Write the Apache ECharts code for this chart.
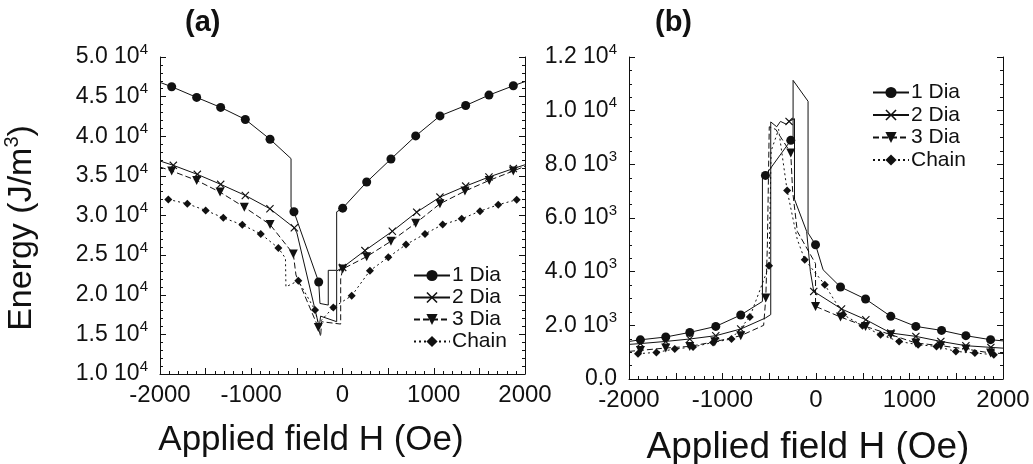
<!DOCTYPE html>
<html><head><meta charset="utf-8">
<script src="https://cdn.jsdelivr.net/npm/echarts@6/dist/echarts.min.js"></script>
<style>html,body{margin:0;padding:0;background:#fff}#c{width:1033px;height:464px}</style>
</head><body><div id="c"></div>
<script>
// ---- data: [H (Oe), Energy (J/m3), marker flag] ----
const seriesNames = ['1 Dia', '2 Dia', '3 Dia', 'Chain'];
const xTicks = [-2000, -1000, 0, 1000, 2000];

const a1Dia = [[-2000,46800,0],[-1872,46250,1],[-1598,44900,1],[-1335,43640,1],[-1065,42120,1],[-794,39620,1],[-564,37180,0],[-564,31070,0],[-532,30470,1],[-261,21610,1],[-247,18900,0],[-156,18700,0],[-156,23080,0],[-64,23080,0],[-64,30460,0],[2,30930,1],[265,34220,1],[531,37130,1],[802,40040,1],[1068,42570,1],[1350,43880,1],[1605,45190,1],[1872,46370,1],[2000,46900,0]];
const a2Dia = [[-2000,36880,0],[-1854,36330,1],[-1591,35190,1],[-1335,33930,1],[-1065,32530,1],[-795,30850,1],[-528,28440,1],[-500,27800,0],[-255,15900,0],[-240,17300,0],[-64,16600,0],[-64,23000,0],[2,23450,1],[246,25570,1],[546,28010,1],[813,30420,1],[1068,32320,1],[1350,33710,1],[1605,34860,1],[1872,35920,1],[2000,36400,0]];
const a3Dia = [[-2000,36120,0],[-1872,35620,1],[-1598,34430,1],[-1342,32950,1],[-1076,31050,1],[-794,28860,1],[-539,25150,1],[-510,22500,0],[-265,15860,1],[-239,14720,0],[-230,16600,0],[-20,16300,0],[-20,22000,0],[2,23250,1],[265,24810,1],[531,26750,1],[802,29030,1],[1068,31480,1],[1342,33080,1],[1608,34430,1],[1872,35620,1],[2000,36200,0]];
const aChain = [[-1909,32030,1],[-1701,31480,1],[-1499,30640,1],[-1306,29710,1],[-1098,28820,1],[-896,27680,1],[-703,25900,1],[-625,24600,0],[-620,21000,0],[-484,21770,1],[-301,18060,1],[-262,16200,0],[-230,16800,0],[-101,18400,1],[101,19880,1],[301,23040,1],[502,24730,1],[696,26330,1],[904,27680,1],[1098,28860,1],[1306,29580,1],[1507,30550,1],[1707,31360,1],[1909,31990,1]];

const b1Dia = [[-2000,1400,0],[-1878,1460,1],[-1607,1565,1],[-1350,1737,1],[-1072,1960,1],[-805,2385,1],[-573,2890,0],[-573,7500,0],[-541,7588,1],[-270,8893,1],[-245,8950,0],[-245,11130,0],[-85,10350,0],[-85,5440,0],[-5,5005,1],[76,4070,0],[262,3430,1],[530,2980,1],[800,2334,1],[1068,1960,1],[1343,1811,1],[1603,1614,1],[1867,1465,1],[2000,1420,0]];
const b2Dia = [[-2000,1290,0],[-1878,1320,1],[-1607,1400,1],[-1350,1491,1],[-1072,1614,1],[-805,1863,1],[-541,2273,0],[-484,2400,0],[-484,9580,0],[-420,9400,0],[-380,9600,0],[-320,9500,0],[-288,9600,1],[-230,9700,0],[-230,6700,0],[-100,5500,0],[-60,4000,0],[-24,3265,1],[273,2609,1],[533,2210,1],[800,1714,1],[1068,1588,1],[1335,1401,1],[1603,1241,1],[1870,1178,1],[2000,1150,0]];
const b3Dia = [[-2000,1030,0],[-1878,1066,1],[-1607,1155,1],[-1350,1215,1],[-1083,1390,1],[-805,1614,1],[-560,2000,0],[-537,3019,1],[-520,5000,0],[-500,9400,0],[-430,9300,0],[-270,8423,1],[-250,7000,0],[-200,5500,0],[-5,4300,0],[-5,2706,1],[262,2310,1],[530,1960,1],[800,1651,1],[1068,1342,1],[1335,1241,1],[1603,1118,1],[1867,969,1],[2000,950,0]];
const bChain = [[-1904,943,1],[-1707,991,1],[-1511,1118,1],[-1315,1193,1],[-1101,1364,1],[-904,1491,1],[-708,2310,1],[-502,4222,1],[-480,8500,0],[-400,9300,0],[-309,7029,1],[-200,5200,0],[-120,4446,1],[94,3515,1],[290,2400,1],[497,1986,1],[690,1651,1],[889,1401,1],[1092,1278,1],[1289,1215,1],[1496,1029,1],[1699,969,1],[1902,906,1]];

const FONT = '"Liberation Sans", Arial, sans-serif';
const INK = '#111';

const styles = [
  {symbol: 'circle', size: 9, type: 'solid'},
  {symbol: 'path://M0,1L1,0L5,4L9,0L10,1L6,5L10,9L9,10L5,6L1,10L0,9L4,5Z', size: 8, type: 'solid'},
  {symbol: 'path://M0,0L10,0L5,9Z', size: 9, type: [6,3]},
  {symbol: 'diamond', size: 8, type: [2,3]}
];

function mk(arr, idx, grid) {
  const st = styles[idx];
  return {
    type: 'line', name: seriesNames[idx], xAxisIndex: grid, yAxisIndex: grid * 2,
    symbol: st.symbol, symbolSize: st.size, showAllSymbol: true,
    lineStyle: {color: INK, width: 1, type: st.type},
    itemStyle: {color: INK},
    data: arr.map(p => p[2] ? {value: [p[0], p[1]]} : {value: [p[0], p[1]], symbol: 'none'}),
    z: 2
  };
}

function xAxis(grid) {
  return {
    type: 'value', gridIndex: grid, min: -2000, max: 2000, interval: 500,
    axisLine: {show: true, onZero: false, lineStyle: {color: INK, width: 1}},
    axisTick: {inside: true, length: 6, lineStyle: {color: INK}},
    minorTick: {show: true, splitNumber: 5, length: 3, lineStyle: {color: INK}},
    splitLine: {show: false},
    axisLabel: {margin: 9, fontSize: 24, fontFamily: FONT, color: INK,
      formatter: v => (xTicks.indexOf(v) >= 0 ? String(v) : '')}
  };
}
function yAxes(grid, min, max, interval, minorSplit, fmt) {
  const base = {
    type: 'value', gridIndex: grid, min: min, max: max, interval: interval,
    axisLine: {show: true, onZero: false, lineStyle: {color: INK, width: 1}},
    axisTick: {inside: true, length: 6, lineStyle: {color: INK}},
    minorTick: {show: true, splitNumber: minorSplit, length: 3, lineStyle: {color: INK}},
    splitLine: {show: false}
  };
  return [
    Object.assign({}, base, {position: 'left', axisLabel: {margin: 12, fontSize: 23, fontFamily: FONT, color: INK, formatter: fmt,
      rich: {n: {fontSize: 23, lineHeight: 30, fontFamily: FONT, color: INK}, s: {fontSize: 15, lineHeight: 12, fontFamily: FONT, color: INK, verticalAlign: 'top'}}}}),
    Object.assign({}, base, {position: 'right', axisLabel: {show: false}})
  ];
}

const fmtA = v => '{n|' + (v / 1e4).toFixed(1) + ' 10}{s|4}';
const fmtB = v => v === 0 ? '{n|0.0}' : (v >= 1e4 ? '{n|' + (v / 1e4).toFixed(1) + ' 10}{s|4}' : '{n|' + (v / 1e3).toFixed(1) + ' 10}{s|3}');

const legendText = {fontSize: 21, fontFamily: FONT, color: INK, padding: [0,0,0,-3]};

const chart = echarts.init(document.getElementById('c'), null, {renderer: 'canvas'});
chart.setOption({
  animation: false,
  backgroundColor: '#fff',
  grid: [
    {left: 160, top: 57, width: 365, height: 317},
    {left: 629, top: 57, width: 374, height: 322}
  ],
  xAxis: [xAxis(0), xAxis(1)],
  yAxis: [].concat(yAxes(0, 10000, 50000, 5000, 5, fmtA), yAxes(1, 0, 12000, 2000, 4, fmtB)),
  legend: [
    {orient: 'vertical', left: 413, top: 265, padding: 0, itemWidth: 36, itemHeight: 14, itemGap: 1,
     textStyle: legendText, data: seriesNames},
    {orient: 'vertical', left: 872, top: 82, padding: 0, itemWidth: 36, itemHeight: 14, itemGap: 1.5,
     textStyle: legendText, data: seriesNames}
  ],
  graphic: [
    {type: 'text', left: 185, top: 8, style: {text: '(a)', font: 'bold 29px ' + FONT, fill: INK}},
    {type: 'text', left: 655, top: 8, style: {text: '(b)', font: 'bold 29px ' + FONT, fill: INK}},
    {type: 'text', x: 311, y: 440, style: {text: 'Applied field H (Oe)', font: '35px ' + FONT, fill: INK, align: 'center', verticalAlign: 'middle'}},
    {type: 'text', x: 808, y: 448, style: {text: 'Applied field H (Oe)', font: '37px ' + FONT, fill: INK, align: 'center', verticalAlign: 'middle'}},
    {type: 'text', x: 22, y: 228, rotation: Math.PI / 2,
     style: {text: '{n|Energy (J/m}{s|3}{n|)}', align: 'center', verticalAlign: 'middle', fill: INK,
       rich: {n: {fontSize: 34, lineHeight: 40, fontFamily: FONT, fill: INK}, s: {fontSize: 20, lineHeight: 16, fontFamily: FONT, fill: INK, verticalAlign: 'top'}}}}
  ],
  series: [
    mk(a1Dia, 0, 0), mk(a2Dia, 1, 0), mk(a3Dia, 2, 0), mk(aChain, 3, 0),
    mk(b1Dia, 0, 1), mk(b2Dia, 1, 1), mk(b3Dia, 2, 1), mk(bChain, 3, 1)
  ]
});
</script>
</body></html>
